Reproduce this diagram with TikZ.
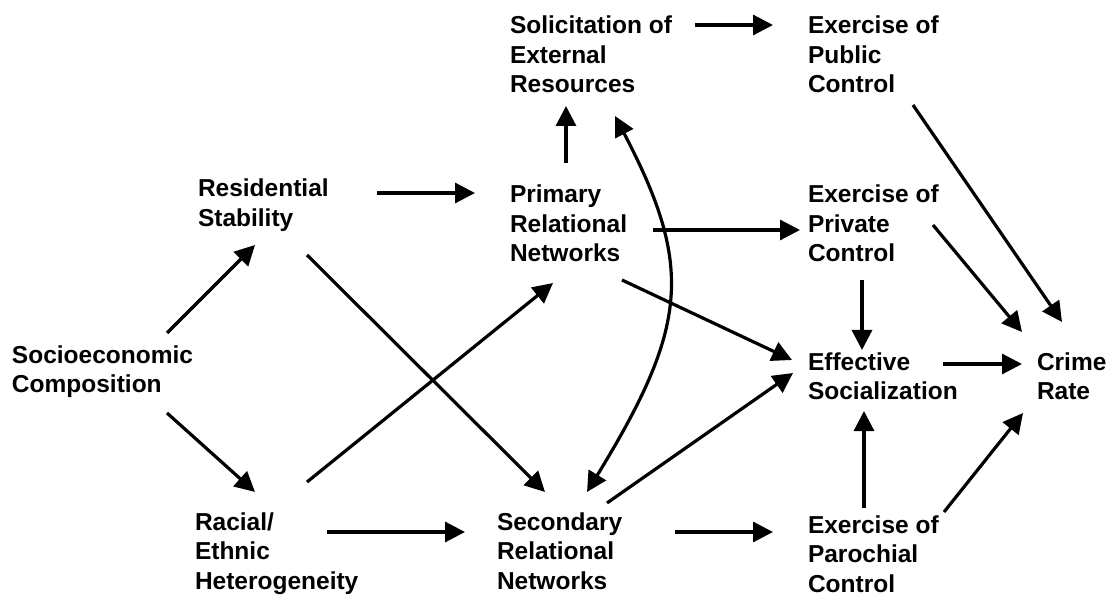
\documentclass[tikz,border=0pt]{standalone}
\usepackage{fontspec}
\setmainfont{Liberation Sans}
\usetikzlibrary{arrows.meta}
\tikzset{
  lbl/.style={anchor=north west, inner sep=0pt, outer sep=0pt, align=left,
    font=\fontsize{24.5}{29.5}\selectfont\bfseries},
  arr/.style={line width=3.2pt, -{Triangle[length=20pt,width=20pt]}},
  darr/.style={line width=3.2pt, {Triangle[length=20pt,width=20pt]}-{Triangle[length=20pt,width=20pt]}}
}
\newcommand{\fl}{\rule{0pt}{18pt}}
\begin{document}
\begin{tikzpicture}[x=1pt,y=-1pt]
\useasboundingbox (0,0) rectangle (1112,596);
% nodes (north west = left, baseline-18)
\node[lbl] (soc) at (12,345) {\fl Socioeconomic\\Composition};
\node[lbl] (res) at (198,179) {\fl Residential\\Stability};
\node[lbl] (rac) at (195,512) {\fl Racial/\\Ethnic\\Heterogeneity};
\node[lbl] (pri) at (510,185) {\fl Primary\\Relational\\Networks};
\node[lbl] (sec) at (497,512) {\fl Secondary\\Relational\\Networks};
\node[lbl] (sol) at (510,16) {\fl Solicitation of\\External\\Resources};
\node[lbl] (pub) at (808,16) {\fl Exercise of\\Public\\Control};
\node[lbl] (prv) at (808,185) {\fl Exercise of\\Private\\Control};
\node[lbl] (eff) at (808,352) {\fl Effective\\Socialization};
\node[lbl] (crm) at (1037,352) {\fl Crime\\Rate};
\node[lbl] (par) at (808,515) {\fl Exercise of\\Parochial\\Control};
% connectors
\draw[arr] ([shift={(155,-12)}]soc.north west) -- ([shift={(57,66)}]res.north west);
\draw[arr] ([shift={(155,68)}]soc.north west) -- ([shift={(60,-20)}]rac.north west);
\draw[arr] ([shift={(179,14)}]res.north west) -- ([shift={(-35,8)}]pri.north west);
\draw[arr] ([shift={(109,76)}]res.north west) -- ([shift={(48,-20)}]sec.north west);
\draw[arr] ([shift={(112,-30)}]rac.north west) -- ([shift={(43,98)}]pri.north west);
\draw[arr] ([shift={(132,20)}]rac.north west) -- ([shift={(-32,20)}]sec.north west);
\draw[arr] ([shift={(56,-22)}]pri.north west) -- ([shift={(56,90)}]sol.north west);
\draw[arr] ([shift={(185,9)}]sol.north west) -- ([shift={(-35,9)}]pub.north west);
\draw[arr] ([shift={(143,45)}]pri.north west) -- ([shift={(-8,45)}]prv.north west);
\draw[arr] ([shift={(112,95)}]pri.north west) -- ([shift={(-16,8)}]eff.north west);
\draw[arr] ([shift={(110,-9)}]sec.north west) -- ([shift={(-15,21)}]eff.north west);
\draw[arr] ([shift={(178,20)}]sec.north west) -- ([shift={(-35,17)}]par.north west);
\draw[darr] ([shift={(90,-20)}]sec.north west) .. controls (688,327) and (694,267) .. ([shift={(105,100)}]sol.north west);
\draw[arr] ([shift={(105,89)}]pub.north west) -- ([shift={(25,-30)}]crm.north west);
\draw[arr] ([shift={(125,40)}]prv.north west) -- ([shift={(-15,-20)}]crm.north west);
\draw[arr] ([shift={(54,95)}]prv.north west) -- ([shift={(54,-2)}]eff.north west);
\draw[arr] ([shift={(135,12)}]eff.north west) -- ([shift={(-15,12)}]crm.north west);
\draw[arr] ([shift={(56,-7)}]par.north west) -- ([shift={(56,59)}]eff.north west);
\draw[arr] ([shift={(136,-3)}]par.north west) -- ([shift={(-14,61)}]crm.north west);
\end{tikzpicture}
\end{document}
